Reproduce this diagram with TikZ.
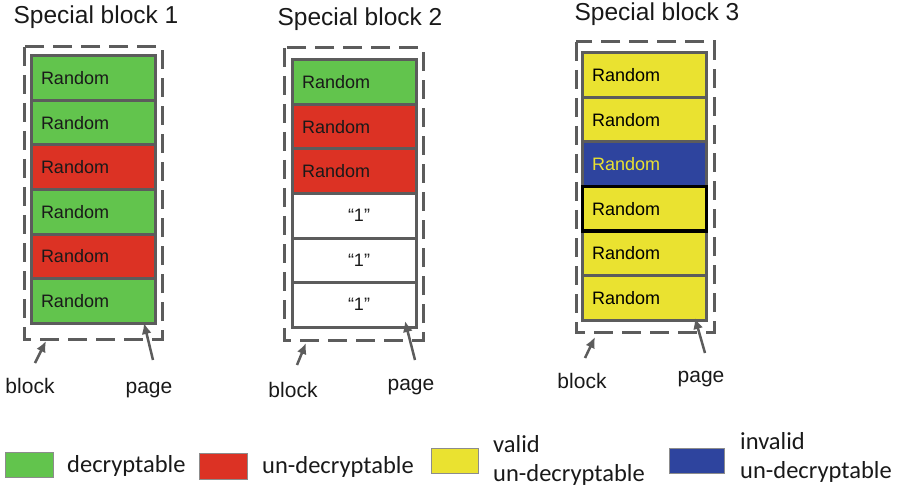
\documentclass[tikz,border=0pt]{standalone}
\usepackage{fontspec}
\setmainfont{Liberation Sans}
\newfontfamily\legendfont{Carlito}
\usepackage{xcolor}
\usetikzlibrary{arrows.meta}
\usetikzlibrary{calc}

\definecolor{okgreen}{RGB}{98,196,77}
\definecolor{badred}{RGB}{220,50,36}
\definecolor{validyellow}{RGB}{234,226,48}
\definecolor{invalidblue}{RGB}{46,68,158}
\definecolor{framegray}{RGB}{92,92,92}

\tikzset{
	pagebox/.style = {draw = framegray, line width = 3pt, minimum width = 124pt, minimum height = 44.5pt, text width = 104pt, inner xsep = 10pt, inner ysep = 0pt, outer sep = 0pt, align = left, text = black!90, font = \fontsize{18}{20}\selectfont},
	onebox/.style = {pagebox, align = center},
	blockframe/.style = {draw = framegray, line width = 3pt, dash pattern = on 19pt off 9pt},
	pointer/.style = {draw = framegray, line width = 2.5pt, -{Latex[length = 11pt, width = 10pt]}},
	lbl/.style = {inner sep = 0pt, text = black!90, font = \fontsize{21}{24}\selectfont},
	titlelbl/.style = {inner sep = 0pt, anchor = base, text = black!90, font = \fontsize{24.5}{28}\selectfont},
	legendbox/.style = {draw = black!45, line width = 1pt, inner sep = 0pt, outer sep = 0pt},
	legendlbl/.style = {inner sep = 0pt, align = left, text = black!90, font = \legendfont\fontsize{24.5}{29}\selectfont}
}

\begin{document}
\begin{tikzpicture}[x = 1pt, y = -1pt]
	
	\useasboundingbox (0,0) rectangle (902,489);
	
	\node[titlelbl] (t1) at (96,24) {Special block 1};
	\node[titlelbl] (t2) at (360,26) {Special block 2};
	\node[titlelbl] (t3) at (657,21) {Special block 3};
	
	\foreach \col [count = \i] in {okgreen,okgreen,badred,okgreen,badred,okgreen}
		\node[pagebox, fill = \col] (b1p\i) at (93, {56 + 44.5*\i - 22.25}) {Random};
	
	\foreach \col [count = \i] in {okgreen,badred,badred}
		\node[pagebox, fill = \col] (b2p\i) at (354, {60 + 44.5*\i - 22.25}) {Random};
	\foreach \i in {4,5,6}
		\node[onebox, fill = white] (b2p\i) at (354, {60 + 44.5*\i - 22.25}) {\hspace*{10pt}``1''};
	
	\foreach \col/\txt [count = \i] in {validyellow/black,validyellow/black,invalidblue/validyellow,validyellow/black,validyellow/black,validyellow/black}
		\node[pagebox, fill = \col, text = \txt] (b3p\i) at (644, {53 + 44.5*\i - 22.25}) {Random};
	\draw[line width = 3pt, black] (b3p4.north west) rectangle (b3p4.south east);
	
	\draw[blockframe] ($(b1p1.north west) + (-7,-9)$) rectangle ($(b1p6.south east) + (7,16)$);
	\draw[blockframe] ($(b2p1.north west) + (-8,-12)$) rectangle ($(b2p6.south east) + (7,13)$);
	\draw[blockframe] ($(b3p1.north west) + (-6,-11)$) rectangle ($(b3p6.south east) + (8,12)$);
	
	\node[lbl, anchor = base] (b1blk) at (30,393) {block};
	\node[lbl, anchor = base] (b1pg) at (149,393) {page};
	\node[lbl, anchor = base] (b2blk) at (293,397) {block};
	\node[lbl, anchor = base] (b2pg) at (411,390) {page};
	\node[lbl, anchor = base] (b3blk) at (582,388) {block};
	\node[lbl, anchor = base] (b3pg) at (701,382) {page};
	
	\coordinate (b1bt) at (35,363);
	\coordinate (b1bh) at (46,341);
	\coordinate (b1pt) at (153,360);
	\coordinate (b1ph) at (144,323);
	\coordinate (b2bt) at (297,365);
	\coordinate (b2bh) at (306,343);
	\coordinate (b2pt) at (415,360);
	\coordinate (b2ph) at (405,321);
	\coordinate (b3bt) at (585,358);
	\coordinate (b3bh) at (595,337);
	\coordinate (b3pt) at (705,353);
	\coordinate (b3ph) at (695,318);
	
	\draw[pointer] (b1bt) -- (b1bh);
	\draw[pointer] (b1pt) -- (b1ph);
	\draw[pointer] (b2bt) -- (b2bh);
	\draw[pointer] (b2pt) -- (b2ph);
	\draw[pointer] (b3bt) -- (b3bh);
	\draw[pointer] (b3pt) -- (b3ph);
	
	\node[legendbox, fill = okgreen, minimum width = 48pt, minimum height = 25pt] (lgreen) at (29,464.5) {};
	\node[legendbox, fill = badred, minimum width = 48pt, minimum height = 26pt] (lred) at (223,466) {};
	\node[legendbox, fill = validyellow, minimum width = 47pt, minimum height = 25pt] (lyellow) at (454.5,460.5) {};
	\node[legendbox, fill = invalidblue, minimum width = 55pt, minimum height = 25pt] (lblue) at (696.5,460.5) {};
	
	\node[legendlbl, anchor = base west] (tgreen) at (67,472) {decryptable};
	\node[legendlbl, anchor = base west] (tred) at (262,473) {un-decryptable};
	\node[legendlbl, anchor = west] (tyellow) at (493,460) {valid\\un-decryptable};
	\node[legendlbl, anchor = west] (tblue) at (740,457) {invalid\\un-decryptable};
\end{tikzpicture}
\end{document}
